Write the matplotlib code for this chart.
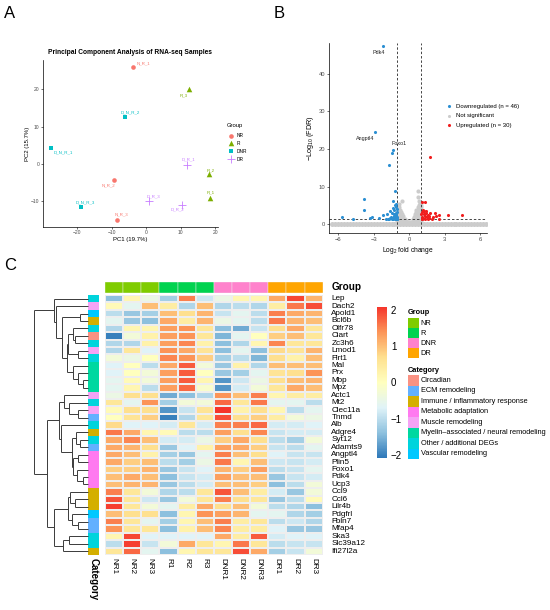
import numpy as np
import matplotlib
matplotlib.use('Agg')
import matplotlib.pyplot as plt
from matplotlib.colors import LinearSegmentedColormap, Normalize
from matplotlib.patches import Rectangle
from matplotlib.cm import ScalarMappable

plt.rcParams['font.family'] = ['Liberation Sans', 'DejaVu Sans']
plt.rcParams['mathtext.fontset'] = 'custom'
plt.rcParams['mathtext.rm'] = 'Liberation Sans'
plt.rcParams['mathtext.default'] = 'regular'

W, H = 550, 610

# ---------------- Panel A data (PCA) ----------------
pca_samples = ['N_R_1', 'N_R_2', 'N_R_3', 'R_1', 'R_2', 'R_3',
               'D_N_R_1', 'D_N_R_2', 'D_N_R_3', 'D_R_1', 'D_R_2', 'D_R_3']
pca_group = ['NR', 'NR', 'NR', 'R', 'R', 'R', 'DNR', 'DNR', 'DNR', 'DR', 'DR', 'DR']
pc1 = [-3.7, -9.2, -8.5, 18.5, 18.2, 12.3, -27.5, -6.1, -19.0, 11.8, 10.4, 0.7]
pc2 = [25.9, -4.4, -14.9, -9.0, -2.7, 20.0, 4.4, 12.5, -11.6, -0.2, -10.9, -9.8]
pca_groups = ['NR', 'R', 'DNR', 'DR']
pca_colors = {'NR': '#F8766D', 'R': '#7CAE00', 'DNR': '#00BFC4', 'DR': '#C77CFF'}
pca_markers = {'NR': 'o', 'R': '^', 'DNR': 's', 'DR': '+'}
pca_sizes = {'NR': 11, 'R': 16, 'DNR': 11, 'DR': 26}
# label offsets (pixels) for repelled labels
pca_label_offsets = [(10, 4), (-6, -5), (5, 5), (1, 5), (2, 4), (-5, -6),
                     (12, -5), (5, 5), (5, 5), (2, 5), (-5, -5), (5, 4)]

# ---------------- Panel B data (volcano) ----------------
down_x = [-2.2, -2.94, -1.34, -1.43, -1.69, -1.23, -3.85, -1.34, -3.8, -1.63,
          -5.7, -4.75, -3.35, -3.15, -2.25, -2.0, -1.55, -1.15, -1.25, -1.1,
          -1.2, -1.05, -1.1, -1.3, -1.05, -1.2, -1.4, -1.02, -1.15, -1.6,
          -1.8, -1.1, -1.25, -1.08, -1.3, -1.5, -1.35, -1.15, -2.6, -1.05,
          -1.2, -1.9, -1.45, -1.02, -1.7, -1.12]
down_y = [47.2, 24.6, 19.7, 18.9, 15.8, 8.7, 6.7, 6.2, 3.9, 3.6,
          1.9, 1.4, 1.6, 1.9, 2.5, 1.4, 2.0, 2.9, 3.8, 4.5,
          5.0, 3.3, 2.4, 2.6, 1.9, 1.6, 1.5, 1.5, 1.4, 1.6,
          1.45, 2.1, 2.2, 2.8, 1.8, 3.0, 4.3, 5.4, 1.6, 1.35,
          1.38, 2.6, 1.4, 4.0, 1.35, 1.7]
up_x = [1.8, 1.1, 1.34, 1.14, 1.22, 1.46, 1.76, 2.14, 2.29, 2.55,
        3.3, 4.5, 1.05, 1.1, 1.2, 1.3, 1.35, 1.5, 1.6, 1.65,
        1.7, 1.9, 2.0, 1.02, 1.08, 1.25, 1.4, 1.55, 2.5, 1.12]
up_y = [17.8, 5.9, 5.9, 3.8, 3.6, 2.9, 2.9, 2.9, 2.2, 2.4,
        2.4, 2.4, 1.5, 2.0, 1.6, 2.3, 1.5, 1.8, 1.4, 2.1,
        1.6, 1.45, 1.9, 2.6, 3.2, 2.8, 3.4, 2.4, 1.5, 1.4]
# not-significant genes: dense band along FDR ~ 1 and two wings near |log2FC| < 1
grey_base_x = [-6.5, -6.25, -6.0, -5.75, -5.5, -5.25, -5.0, -4.75, -4.5, -4.25, -4.0,
               -3.75, -3.5, -3.25, -3.0, -2.75, -2.5, -2.25, -2.0, -1.75, -1.5, -1.25,
               -1.0, -0.75, -0.5, -0.25, 0.0, 0.25, 0.5, 0.75, 1.0, 1.25, 1.5, 1.75,
               2.0, 2.25, 2.5, 2.75, 3.0, 3.25, 3.5, 3.75, 4.0, 4.25, 4.5, 4.75, 5.0,
               5.25, 5.5, 5.75, 6.0, 6.25, 6.5]
grey_base_y = [0.1, 0.0, 0.1, 0.0, 0.1, 0.0, 0.1, 0.0, 0.1, 0.0, 0.1,
               0.0, 0.1, 0.0, 0.1, 0.0, 0.1, 0.0, 0.1, 0.0, 0.1, 0.0,
               0.1, 0.0, 0.1, 0.0, 0.1, 0.0, 0.1, 0.0, 0.1, 0.0, 0.1, 0.0,
               0.1, 0.0, 0.1, 0.0, 0.1, 0.0, 0.1, 0.0, 0.1, 0.0, 0.1, 0.0, 0.1,
               0.0, 0.1, 0.0, 0.1, 0.0, 0.1]
grey_wing_x = [-1.0, -0.9, -0.8, -0.7, -0.6, -0.5, -0.4, -0.3, -0.2, -0.1,
               0.0, 0.1, 0.2, 0.3, 0.4, 0.5, 0.6, 0.7, 0.8, 0.9, 1.0]
grey_wing_y = [
    [0.3, 0.9, 1.5, 2.1, 2.7, 3.3, 3.9, 4.5, 5.1],
    [0.3, 0.9, 1.5, 2.1, 2.7, 3.3, 3.9, 4.5, 5.4],
    [0.3, 0.9, 1.5, 2.1, 2.7, 3.3, 3.9],
    [0.3, 0.9, 1.5, 2.1, 2.7, 3.3],
    [0.3, 0.9, 1.5, 2.1, 2.7, 6.2],
    [0.3, 0.9, 1.5, 2.1],
    [0.3, 0.9, 1.5],
    [0.3, 0.9],
    [0.3, 0.7],
    [0.3, 0.6],
    [0.3, 0.6],
    [0.3, 0.6],
    [0.3, 0.7],
    [0.3, 0.9, 1.4],
    [0.3, 0.9, 1.5, 2.0],
    [0.3, 0.9, 1.5, 2.1, 2.7],
    [0.3, 0.9, 1.5, 2.1, 2.7, 3.3, 3.9],
    [0.3, 0.9, 1.5, 2.1, 2.7, 3.3, 3.9, 4.5, 7.2, 8.8],
    [0.3, 0.9, 1.5, 2.1, 2.7, 3.3, 3.9, 4.5, 5.1, 6.2],
    [0.3, 0.9, 1.5, 2.1, 2.7, 3.3, 3.9, 4.5, 5.1, 5.7],
    [0.3, 0.9, 1.5, 2.1, 2.7, 3.3, 3.9, 4.5, 5.1],
]
fc_threshold = 1.0
fdr_threshold_line = 1.3
volcano_labels = ['Pdk4', 'Angptl4', 'Foxo1']
volcano_label_x = [-2.55, -3.7, -0.85]
volcano_label_y = [45.5, 22.8, 21.3]

# ---------------- Panel C data (heatmap) ----------------
genes = ['Lep', 'Dach2', 'Apold1', 'Bcl6b', 'Olfr78', 'Ciart', 'Zc3h6', 'Lmod1',
         'Flrt1', 'Mal', 'Prx', 'Mbp', 'Mpz', 'Actc1', 'Mt2', 'Clec11a', 'Tnmd',
         'Alb', 'Adgre4', 'Syt12', 'Adamts9', 'Angptl4', 'Plin5', 'Foxo1', 'Pdk4',
         'Ucp3', 'Ccl9', 'Ccl6', 'Lilr4b', 'Pdgfrl', 'Fbln7', 'Mfap4', 'Ska3',
         'Slc39a12', 'Ifi27l2a']
samples = ['NR1', 'NR2', 'NR3', 'R1', 'R2', 'R3', 'DNR1', 'DNR2', 'DNR3', 'DR1', 'DR2', 'DR3']
sample_group = ['NR', 'NR', 'NR', 'R', 'R', 'R', 'DNR', 'DNR', 'DNR', 'DR', 'DR', 'DR']
expr = [
    [-1.4, 0.2, -0.45, -1.2, 1.55, -0.85, -0.45, 0.2, 0.2, 1.2, 1.95, 1.1],
    [0.1, -0.6, 1.0, 0.4, -1.1, 1.0, -1.1, -1.0, -1.1, 0.4, 1.6, 1.9],
    [-1.0, -1.3, -1.2, 1.0, 0.7, 1.1, -0.9, -0.6, -1.0, 1.55, 1.2, 1.1],
    [-0.6, -1.3, -1.4, 1.2, 0.4, 1.1, -0.45, -0.6, -1.0, 1.6, 1.1, 1.0],
    [-1.1, 0.2, 0.2, 1.3, 1.4, 0.55, -1.4, -1.6, -0.9, 0.7, 1.2, 0.55],
    [-2.0, -0.3, 0.3, 1.3, 1.4, 0.55, -1.5, -0.6, 0.0, 0.85, 1.0, 0.55],
    [-1.1, -1.1, 0.3, 1.3, 1.5, 0.3, -1.4, -1.1, 0.2, 1.5, 0.55, 0.55],
    [-1.1, 0.55, -0.7, 1.4, 1.2, 0.6, -1.4, -0.6, -1.4, 0.75, 0.6, 1.1],
    [-0.3, -0.45, 0.0, 1.5, 1.4, 0.85, -1.2, -1.0, -1.5, 0.7, 0.3, 1.0],
    [-0.7, 0.0, -1.0, 1.2, 1.8, -0.3, -1.3, 0.3, -1.1, 1.0, 1.0, 1.0],
    [-0.7, 0.0, -0.3, 1.3, 1.8, 0.0, -1.3, -1.2, -0.6, 0.6, 0.7, 1.4],
    [-0.6, 0.1, -0.3, 1.3, 1.8, 0.2, -1.8, -0.85, -0.45, 0.7, 1.0, 1.1],
    [-0.6, 0.2, -1.0, 1.3, 1.7, -0.15, -1.8, -0.8, -0.3, 0.55, 1.2, 1.0],
    [-0.45, 0.7, 0.7, -1.6, -1.4, -1.1, 1.4, 1.0, 1.55, 0.2, 0.4, 0.4],
    [0.55, -0.6, 1.4, -1.2, -0.3, -0.3, 1.7, 0.55, 1.6, -0.6, -0.6, -1.0],
    [0.1, 0.7, 0.7, -1.8, -0.9, 0.6, 2.1, 0.3, 0.7, 0.2, -1.0, -0.6],
    [0.0, 0.6, 0.85, -2.0, -1.1, 0.55, 1.9, 0.7, 0.85, 0.4, -0.3, -0.45],
    [0.75, -0.7, -0.7, -0.8, 0.55, -0.8, 1.55, 1.55, 1.7, -0.8, -0.8, -0.7],
    [1.6, 1.2, 0.2, 0.1, -1.0, -1.0, 1.3, 0.7, 1.5, -0.9, -0.8, -0.8],
    [1.2, 1.5, 1.0, -0.8, -0.8, -0.45, 0.85, 1.2, 0.7, -1.0, -1.2, -0.3],
    [1.2, 1.1, 0.7, -1.3, -0.7, 0.3, 1.3, 1.2, 0.85, -0.9, -1.0, -0.6],
    [1.2, 1.0, 0.3, -1.2, -1.3, -0.6, 1.55, 1.0, 0.7, -0.7, -0.9, -0.9],
    [1.2, 0.85, 1.0, -1.0, -1.2, -0.45, 1.6, 0.2, 1.0, -0.85, -0.9, -0.8],
    [0.85, 0.85, 1.1, -1.3, -0.9, -0.7, 1.1, 0.85, 1.3, -1.0, -0.9, -0.6],
    [1.0, 1.2, 1.0, -1.4, -0.9, -0.8, 1.3, 1.0, 1.0, -1.3, -0.9, -0.8],
    [1.0, 1.1, 1.1, -1.3, -1.0, -0.8, 1.0, 1.0, 0.85, -1.4, -1.0, -0.3],
    [1.55, 0.55, -0.3, -1.1, -1.0, 0.55, 1.85, 1.0, 0.4, -0.8, -1.3, -0.3],
    [1.85, 0.55, -0.85, -1.3, -0.3, 0.55, 1.55, 0.7, 0.55, -1.3, -1.0, 0.1],
    [2.0, 0.55, -0.3, -0.6, 0.4, 1.2, 0.7, 1.0, -0.3, -1.0, -1.1, -1.4],
    [1.0, 0.7, 0.7, -1.4, 0.2, 1.4, 1.3, 1.1, -0.6, -0.6, -1.1, -1.2],
    [1.55, 0.55, -0.6, -1.2, 0.2, 1.0, 1.55, 0.4, 0.55, -1.0, -0.85, -1.1],
    [1.4, 0.55, 0.55, -1.4, 0.3, 1.0, 1.5, 0.4, 0.4, -0.7, -1.3, -1.3],
    [0.2, 1.95, -0.7, -0.7, -0.7, -0.7, 1.2, 0.4, 1.8, -0.8, -0.7, -0.7],
    [-1.0, 2.0, -0.9, -0.3, 1.2, 0.55, 0.2, 1.6, 0.55, -1.0, -0.9, -0.9],
    [0.55, 1.7, -0.6, -1.4, 0.2, 0.55, 0.55, 1.9, 1.2, -1.2, -0.9, -0.3],
]
gene_category = ['Other / additional DEGs', 'Muscle remodeling', 'Vascular remodeling',
                 'Immune / inflammatory response', 'Other / additional DEGs', 'Circadian',
                 'Other / additional DEGs', 'Muscle remodeling', 'Other / additional DEGs',
                 'Myelin\u2013associated / neural remodeling', 'Myelin\u2013associated / neural remodeling',
                 'Myelin\u2013associated / neural remodeling', 'Myelin\u2013associated / neural remodeling',
                 'Muscle remodeling', 'Other / additional DEGs', 'Muscle remodeling', 'ECM remodeling',
                 'Other / additional DEGs', 'Immune / inflammatory response', 'Other / additional DEGs',
                 'ECM remodeling', 'Metabolic adaptation', 'Metabolic adaptation', 'Metabolic adaptation',
                 'Metabolic adaptation', 'Metabolic adaptation', 'Immune / inflammatory response',
                 'Immune / inflammatory response', 'Immune / inflammatory response', 'Vascular remodeling',
                 'ECM remodeling', 'ECM remodeling', 'Other / additional DEGs', 'Other / additional DEGs',
                 'Immune / inflammatory response']
group_names = ['NR', 'R', 'DNR', 'DR']
group_colors = ['#7FCC00', '#00D34F', '#FF82CC', '#FFA500']
category_names = ['Circadian', 'ECM remodeling', 'Immune / inflammatory response',
                  'Metabolic adaptation', 'Muscle remodeling',
                  'Myelin\u2013associated / neural remodeling', 'Other / additional DEGs',
                  'Vascular remodeling']
category_colors = ['#FA9283', '#62B0FF', '#D4AF00', '#FF7AF0', '#F5A3F5', '#00D8A0',
                   '#00D4DC', '#00C8FF']
# row dendrogram: (height, left, right); leaves are row indices
row_tree = (163,
            (102, 0, (97, 1, (80, (25, 2, 3),
                               (65, (62, (45, 4, (40, 5, 6)), (30, 7, 8)),
                                    (45, 9, (30, 10, (15, 11, 12))))))),
            (125,
             (87, (72, 13, (57, 14, (30, 15, 16))),
                  (83, 17, (50, (37, 18, (25, 19, 20)),
                               (45, (30, 21, 22), (35, 23, (15, 24, 25)))))),
             (102, (62, (55, 26, (40, 27, 28)), (50, 29, (30, 30, 31))),
                   (75, (57, 32, 33), 34))))
color_limit = 2.09
heat_palette = ['#2C77B8', '#8EC1DE', '#E0F3F8', '#FFFFBF', '#FEE08F', '#FC9558', '#F5342B']
colorbar_ticks = [-2, -1, 0, 1, 2]


def box(l, t, r, b):
    return [l / W, 1 - b / H, (r - l) / W, (b - t) / H]


fig = plt.figure(figsize=(5.5, 6.1), dpi=100)

for letter, (lx, ly) in zip(['A', 'B', 'C'], [(4, 18), (274, 18), (4, 270)]):
    fig.text(lx / W, 1 - ly / H, letter, fontsize=12, ha='left', va='baseline')

# ---------------- Panel A ----------------
axA = fig.add_axes(box(43, 60, 218, 227))
for g in pca_groups:
    idx = [i for i, gg in enumerate(pca_group) if gg == g]
    lw = 0.6 if pca_markers[g] == '+' else 0
    axA.scatter([pc1[i] for i in idx], [pc2[i] for i in idx], marker=pca_markers[g],
                c=pca_colors[g], s=pca_sizes[g], linewidths=lw)
for i, name in enumerate(pca_samples):
    dx, dy = pca_label_offsets[i]
    axA.annotate(name, (pc1[i], pc2[i]), xytext=(dx * 0.72, dy * 0.72),
                 textcoords='offset points', ha='center', va='center',
                 fontsize=3.2, color=pca_colors[pca_group[i]])
axA.set_xlim(-29.9, 20.8)
axA.set_ylim(-16.9, 27.9)
for s in ['top', 'right']:
    axA.spines[s].set_visible(False)
for s in ['left', 'bottom']:
    axA.spines[s].set_linewidth(0.5)
axA.set_xticks([-20, -10, 0, 10, 20])
axA.set_yticks([-10, 0, 10, 20])
axA.tick_params(labelsize=3.6, length=1.5, width=0.4, pad=1, labelcolor='#4D4D4D')
axA.set_xlabel('PC1 (19.7%)', fontsize=4.3, labelpad=1)
axA.set_ylabel('PC2 (15.7%)', fontsize=4.3, labelpad=1)
axA.set_title('Principal Component Analysis of RNA-seq Samples', fontsize=4.8,
              fontweight='bold', pad=4)
fig.text(227 / W, 1 - 126 / H, 'Group', fontsize=4.2, ha='left', va='center')
legA_y = [135.5, 143.3, 151.2, 159.3]
for g, yy in zip(pca_groups, legA_y):
    lw = 0.6 if pca_markers[g] == '+' else 0
    axA.scatter([231 / W], [1 - yy / H], marker=pca_markers[g], c=pca_colors[g],
                s=pca_sizes[g], linewidths=lw, transform=fig.transFigure, clip_on=False)
    fig.text(237 / W, 1 - yy / H, g, fontsize=3.5, ha='left', va='center')

# ---------------- Panel B ----------------
axB = fig.add_axes(box(329.3, 43, 486.7, 233.3))
wing_px = [x for x, ys in zip(grey_wing_x, grey_wing_y) for _ in ys]
wing_py = [y for ys in grey_wing_y for y in ys]
axB.scatter(grey_base_x, grey_base_y, s=13, c='#CCCCCC', linewidths=0, zorder=1)
axB.scatter(wing_px, wing_py, s=9, c='#CCCCCC', linewidths=0, zorder=1)
axB.scatter(down_x, down_y, s=5, c='#2B8FD2', linewidths=0, zorder=3)
axB.scatter(up_x, up_y, s=5, c='#F01E1E', linewidths=0, zorder=3)
for xv in [-fc_threshold, fc_threshold]:
    axB.axvline(xv, ls=(0, (2.5, 2)), color='#444444', lw=0.7, zorder=2)
axB.axhline(fdr_threshold_line, ls=(0, (2.5, 2)), color='#444444', lw=0.7, zorder=2)
for t, x, y in zip(volcano_labels, volcano_label_x, volcano_label_y):
    axB.text(x, y, t, fontsize=3.9, ha='center', va='center', color='#222222')
axB.set_xlim(-6.77, 6.56)
axB.set_ylim(-2.4, 48.1)
for s in ['top', 'right']:
    axB.spines[s].set_visible(False)
for s in ['left', 'bottom']:
    axB.spines[s].set_linewidth(0.5)
axB.set_xticks([-6, -3, 0, 3, 6])
axB.set_yticks([0, 10, 20, 30, 40])
axB.tick_params(labelsize=4.2, length=1.5, width=0.4, pad=1.5, labelcolor='#4D4D4D')
axB.set_xlabel('Log$_2$ fold change', fontsize=4.8, labelpad=1.5)
axB.set_ylabel('$-$Log$_{10}$ (FDR)', fontsize=5.2, labelpad=2)
legB_labels = ['Downregulated (n = 46)', 'Not significant', 'Upregulated (n = 30)']
legB_colors = ['#2B8FD2', '#CCCCCC', '#F01E1E']
legB_y = [106, 115.5, 125]
for lab, col, yy in zip(legB_labels, legB_colors, legB_y):
    axB.scatter([449 / W], [1 - yy / H], s=5, c=col, linewidths=0,
                transform=fig.transFigure, clip_on=False)
    fig.text(456 / W, 1 - yy / H, lab, fontsize=4.3, ha='left', va='center')

# ---------------- Panel C ----------------
data = np.array(expr)
n_rows, n_cols = data.shape
cmap = LinearSegmentedColormap.from_list('heat', heat_palette, N=256)
norm = Normalize(vmin=-color_limit, vmax=color_limit)

axH = fig.add_axes(box(105, 295, 322.7, 555))
axH.pcolormesh(np.arange(n_cols + 1), np.arange(n_rows + 1), data, cmap=cmap, norm=norm,
               edgecolors='#EEEEEE', linewidth=0.3)
axH.set_xlim(0, n_cols)
axH.set_ylim(n_rows, 0)
axH.axis('off')
for i, g in enumerate(genes):
    axH.text(n_cols + 0.48, i + 0.5, g, fontsize=5.9, ha='left', va='center')
for j, s in enumerate(samples):
    axH.text(j + 0.5, n_rows + 0.4, s, fontsize=5.9, ha='center', va='top', rotation=270)

axG = fig.add_axes(box(105, 282, 322.7, 293))
for j, g in enumerate(sample_group):
    axG.add_patch(Rectangle((j, 0), 1, 1, facecolor=group_colors[group_names.index(g)],
                            edgecolor='#EEEEEE', linewidth=0.3))
axG.set_xlim(0, n_cols)
axG.set_ylim(0, 1)
axG.axis('off')
axG.text(n_cols + 0.48, 0.5, 'Group', fontsize=7.2, fontweight='bold', ha='left', va='center')

axC = fig.add_axes(box(88.3, 295, 99, 555))
for i, c in enumerate(gene_category):
    axC.add_patch(Rectangle((0, i), 1, 1, facecolor=category_colors[category_names.index(c)],
                            edgecolor='none'))
axC.set_xlim(0, 1)
axC.set_ylim(n_rows, 0)
axC.axis('off')
axC.text(0.5, n_rows + 0.4, 'Category', fontsize=7, fontweight='bold', ha='center',
         va='top', rotation=270)

axD = fig.add_axes(box(34, 295, 88.3, 555))


def draw_tree(ax, node):
    if isinstance(node, int):
        return node + 0.5, 0.0
    h, a, b = node
    ya, ha_ = draw_tree(ax, a)
    yb, hb = draw_tree(ax, b)
    kw = dict(color='#3A3A3A', lw=0.7, solid_capstyle='butt', clip_on=False)
    ax.plot([ha_, h], [ya, ya], **kw)
    ax.plot([hb, h], [yb, yb], **kw)
    ax.plot([h, h], [ya, yb], **kw)
    return (ya + yb) / 2, h


draw_tree(axD, row_tree)
axD.set_xlim(row_tree[0], 0)
axD.set_ylim(n_rows, 0)
axD.axis('off')

axCB = fig.add_axes(box(376.7, 306.7, 386.7, 458.3))
cb = fig.colorbar(ScalarMappable(norm=norm, cmap=cmap), cax=axCB)
cb.outline.set_visible(False)
cb.set_ticks(colorbar_ticks)
cb.set_ticklabels([('\u2212' + str(abs(t))) if t < 0 else str(t) for t in colorbar_ticks])
axCB.tick_params(length=0, labelsize=7, pad=3)

axL = fig.add_axes(box(400, 300, 550, 470))
axL.set_xlim(400, 550)
axL.set_ylim(470, 300)
axL.axis('off')
axL.text(407.7, 312, 'Group', fontsize=5.3, fontweight='bold', ha='left', va='center')
for k, (gname, gcol) in enumerate(zip(group_names, group_colors)):
    top = 318.3 + k * 10.0
    axL.add_patch(Rectangle((407.7, top), 11.3, 10.0, facecolor=gcol, edgecolor='none'))
    axL.text(420.7, top + 5.0, gname, fontsize=5.3, ha='left', va='center')
axL.text(407.7, 370, 'Category', fontsize=5.3, fontweight='bold', ha='left', va='center')
for k, (cname, ccol) in enumerate(zip(category_names, category_colors)):
    top = 375 + k * 10.5
    axL.add_patch(Rectangle((407.7, top), 11.3, 10.5, facecolor=ccol, edgecolor='none'))
    axL.text(420.7, top + 5.25, cname, fontsize=5.3, ha='left', va='center')

fig.savefig('out.png', dpi=100)
